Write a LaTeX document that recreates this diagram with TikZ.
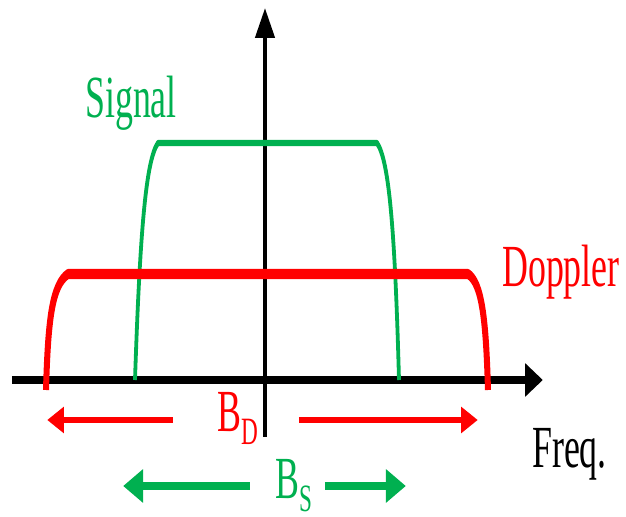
\documentclass[tikz,border=0pt]{standalone}
\usepackage{fontspec}
\setmainfont{Liberation Serif}
\usetikzlibrary{arrows.meta}
\definecolor{siggreen}{RGB}{0,176,80}
\definecolor{dopred}{RGB}{255,0,0}
\tikzset{
  % axes and the two spectra
  axis/.style={black, line width=4pt, -{Triangle[length=17pt,width=18pt]}},
  sigcurve/.style={siggreen, line width=3.6pt, line join=round},
  dopcurve/.style={dopred, line width=5.7pt, line join=round},
  % bandwidth arrows
  bdarrow/.style={dopred, line width=3.7pt, -{Triangle[length=16pt,width=14pt]}},
  bsarrow/.style={siggreen, line width=4pt, -{Triangle[length=19pt,width=18pt]}},
  lbl/.style={inner sep=0pt, anchor=base west, font=\fontsize{34}{40}\selectfont},
}
\newcommand{\lowsub}[1]{\raisebox{-7.4pt}{\fontsize{22}{22}\selectfont #1}}

\begin{document}
\begin{tikzpicture}
\useasboundingbox (0,0) rectangle (12.52,-10.34);
% pixel coordinates, drawn wide and squeezed to 0.6
\begin{scope}[x=0.33333mm, y=-0.2mm, transform canvas={xscale=0.6}]
  \coordinate (xL) at (12,380);
  \coordinate (xR) at (543,380);
  \coordinate (yB) at (265,437);
  \coordinate (yT) at (265,8);
  \draw[axis] (xL) -- (xR);
  \draw[axis] (yB) -- (yT);

  % spectra
  \draw[sigcurve] (135,380) .. controls (140,230) and (146,160) .. (158,143)
    -- (377,143) .. controls (389,160) and (395,230) .. (399,380);
  \draw[dopcurve] (46,390) .. controls (48,320) and (52,285) .. (68,274)
    -- (468,274) .. controls (482,283) and (486,320) .. (488,390);

  % labels
  \node[lbl, siggreen] (signal) at (85,118) {Signal};
  \node[lbl, dopred] (doppler) at (502,287) {Doppler};
  \node[lbl] (freq) at (532,468) {Freq.};
  \node[lbl, dopred] (bd) at (217,432) {B\lowsub{D}};
  \node[lbl, siggreen] (bs) at (275,499) {B\lowsub{S}};

  % bandwidths
  \coordinate (bdl) at (173,420);
  \coordinate (bdlt) at (47,420);
  \coordinate (bdr) at (299,420);
  \coordinate (bdrt) at (478,420);
  \draw[bdarrow] (bdl) -- (bdlt);
  \draw[bdarrow] (bdr) -- (bdrt);
  \coordinate (bsl) at (250,486);
  \coordinate (bslt) at (123,486);
  \coordinate (bsr) at (325,486);
  \coordinate (bsrt) at (406,486);
  \draw[bsarrow] (bsl) -- (bslt);
  \draw[bsarrow] (bsr) -- (bsrt);
\end{scope}
\end{tikzpicture}
\end{document}
